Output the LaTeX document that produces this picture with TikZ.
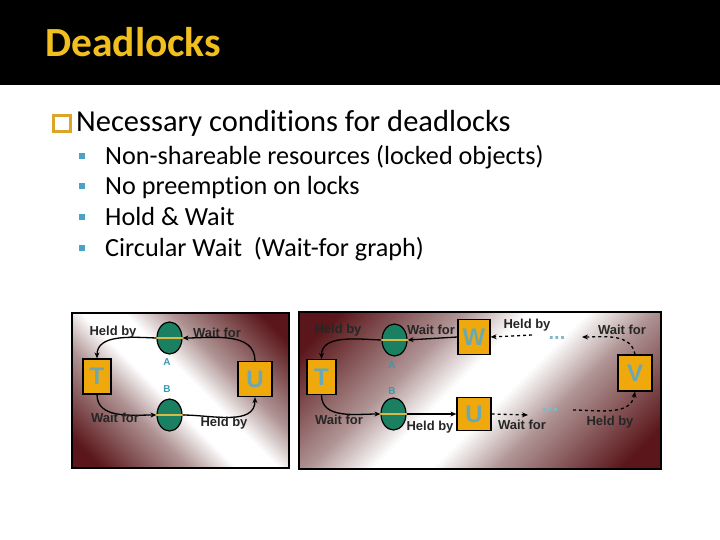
\documentclass[tikz,border=0pt]{standalone}
\usepackage{fontspec}
\setmainfont[Ligatures=NoCommon]{Carlito}
\newfontfamily\arialfont{Liberation Sans}
\usepackage{tikz}
\usetikzlibrary{arrows.meta,positioning,shapes.geometric}
\definecolor{ctitle}{HTML}{F2C01E}
\definecolor{cmark}{HTML}{DBA52A}
\definecolor{cbullet}{HTML}{4BA3C3}
\definecolor{cbox}{HTML}{EFA90C}
\definecolor{cletter}{HTML}{6AA8B4}
\definecolor{cres}{HTML}{1B8062}
\definecolor{cbar}{HTML}{D8B848}
\definecolor{cresl}{HTML}{3A98B0}
\definecolor{cdots}{HTML}{80B8C8}
\definecolor{cmaroon}{HTML}{5A161A}
\definecolor{cgreyred}{HTML}{B09494}
\pgfdeclarehorizontalshading{panelshade}{100bp}{color(0bp)=(cmaroon); color(20bp)=(cmaroon); color(37bp)=(cgreyred); color(46bp)=(white); color(54bp)=(white); color(63bp)=(cgreyred); color(80bp)=(cmaroon); color(100bp)=(cmaroon)}

\begin{document}
\begin{tikzpicture}[
  x=1pt, y=1pt,
  proc/.style={draw=black, line width=1.2pt, fill=cbox, minimum width=32pt, minimum height=35pt, inner sep=0pt,
    font=\arialfont\bfseries\fontsize{24}{24}\selectfont, text=cletter},
  res/.style={ellipse, draw=black, line width=1.2pt, fill=cres, minimum width=25pt, minimum height=32pt, inner sep=0pt},
  bar/.style={cbar, line width=2.5pt},
  lbl/.style={font=\arialfont\bfseries\fontsize{13}{13}\selectfont, text=black!85, inner sep=1pt},
  reslbl/.style={font=\arialfont\bfseries\fontsize{10}{10}\selectfont, text=cresl, inner sep=1pt},
  dots/.style={font=\arialfont\bfseries\fontsize{20}{20}\selectfont, text=cdots, inner sep=1pt},
  arr/.style={-{Stealth[length=6pt,width=5pt]}, line width=1.3pt},
  panel/.style={draw=black, line width=1.5pt, shading=panelshade},
]
\useasboundingbox (0,0) rectangle (720,-540);
\fill[black] (0,0) rectangle (720,-85);
\node[anchor=base west, inner sep=0pt, text=ctitle, font=\bfseries\fontsize{41.5}{44}\selectfont] (title) at (45,-57) {Deadlocks};

% conditions
\node[draw=cmark, line width=2.2pt, minimum width=17pt, minimum height=16pt, inner sep=0pt] (mark) at (62,-123.5) {};
\node[anchor=base west, inner sep=0pt, font=\fontsize{30.5}{33}\selectfont] (head) at (76,-132) {Necessary conditions for deadlocks};
\foreach \y/\txt [count=\i] in {156/{Non-shareable resources (locked objects)}, 186.5/{No preemption on locks}, 217/{Hold \& Wait}, 248/{Circular Wait\ \ (Wait-for graph)}} {
  \fill[cbullet] (79,-\y+3) rectangle (85,-\y-3);
  \node[anchor=base west, inner sep=0pt, font=\fontsize{26.2}{28}\selectfont] (item\i) at (105,-\y-8.3) {\txt};
}

% left graph
\path[panel, shading angle=45] (72,-313) rectangle (289,-468);
\node[proc, minimum width=28pt] (t1) at (97,-376.5) {T};
\node[proc, minimum width=34pt] (u1) at (255,-379) {U};
\node[res] (a1) at (169.5,-338) {};
\node[res] (b1) at (169.5,-415) {};
\draw[bar] (a1.west) -- ([xshift=2pt]a1.east);
\draw[bar] (b1.west) -- ([xshift=2pt]b1.east);
\node[reslbl] (la1) at (167,-362) {A};
\node[reslbl] (lb1) at (167,-389) {B};
\draw[arr] (a1.west) to[out=178,in=90] (t1.north);
\draw[arr] (u1.north) to[out=90,in=0] (a1.east);
\draw[arr] (t1.south) to[out=-90,in=180] (b1.west);
\draw[arr] (b1.east) to[out=0,in=-90] (u1.south);
\node[lbl] (h11) at (113,-332) {Held by};
\node[lbl] (w11) at (217,-333) {Wait for};
\node[lbl] (w12) at (115,-418) {Wait for};
\node[lbl] (h12) at (224,-423) {Held by};

% right graph
\path[panel, shading angle=-45] (299,-312) rectangle (661,-469);
\node[proc, minimum width=29pt] (t2) at (321.5,-377) {T};
\node[res] (a2) at (394.5,-340) {};
\node[res] (b2) at (393.5,-414) {};
\draw[bar] (a2.west) -- ([xshift=2pt]a2.east);
\draw[bar] (b2.west) -- ([xshift=2pt]b2.east);
\node[reslbl] (la2) at (392,-365) {A};
\node[reslbl] (lb2) at (392,-391) {B};
\node[proc] (w2) at (474,-337) {W};
\node[proc, minimum width=34pt, minimum height=33pt] (u2) at (474,-414) {U};
\node[proc, minimum width=34pt, minimum height=36pt] (v2) at (635,-373) {V};
\node[dots] (d1) at (557,-338) {...};
\node[dots] (d2) at (550,-410) {...};
\coordinate (c1) at (532,-335);
\coordinate (c2) at (582,-337);
\coordinate (c3) at (528,-415);
\coordinate (c4) at (573,-410);
\draw[arr] (a2.west) to[out=178,in=90] (t2.north);
\draw[arr] (w2.west) -- (a2.east);
\draw[arr] (t2.south) to[out=-90,in=180] (b2.west);
\draw[arr] (b2.east) -- (u2.west);
\draw[arr, dashed] (c1) -- (w2.east);
\draw[arr, dashed] (v2.north) to[out=100,in=0] (c2);
\draw[arr, dashed] (u2.east) -- (c3);
\draw[arr, dashed] (c4) to[out=0,in=-100] (v2.south);
\node[lbl] (h21) at (338,-330) {Held by};
\node[lbl] (w21) at (431,-330) {Wait for};
\node[lbl] (h22) at (527,-325) {Held by};
\node[lbl] (w22) at (622,-330) {Wait for};
\node[lbl] (w23) at (339,-420) {Wait for};
\node[lbl] (h23) at (430,-427) {Held by};
\node[lbl] (w24) at (522,-425) {Wait for};
\node[lbl] (h24) at (610,-422) {Held by};
\end{tikzpicture}
\end{document}
